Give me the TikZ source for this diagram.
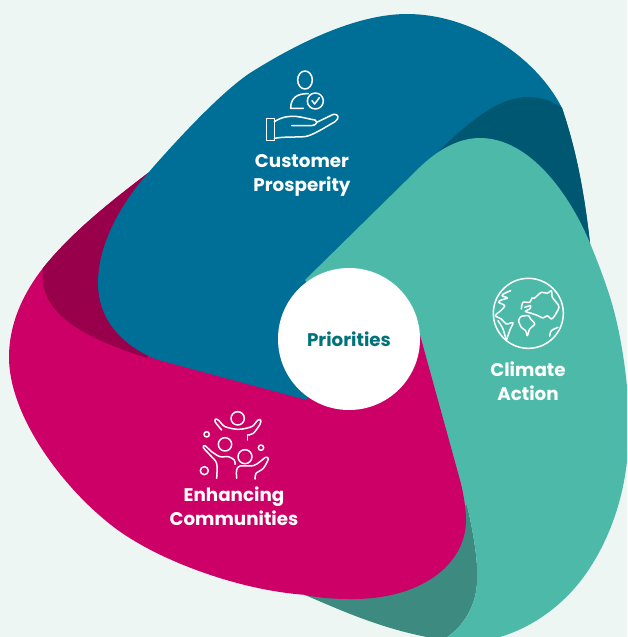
\documentclass[tikz,border=0pt]{standalone}
\usepackage{fontspec}
\setmainfont{Poppins}
\definecolor{paleback}{HTML}{EDF6F3}
\definecolor{blueleaf}{HTML}{006F97}
\definecolor{blueshade}{HTML}{005772}
\definecolor{tealleaf}{HTML}{4DB9A8}
\definecolor{tealshade}{HTML}{3C8A80}
\definecolor{pinkleaf}{HTML}{CC0066}
\definecolor{pinkshade}{HTML}{99004C}
\definecolor{centretext}{HTML}{00727A}
\tikzset{
  leaflabel/.style={white,align=center,font=\fontsize{18.3}{24}\selectfont\bfseries},
  iconline/.style={white,line width=1.5pt,line cap=round,line join=round},
}
\begin{document}
\begin{tikzpicture}[x=1pt,y=-1pt]
        \useasboundingbox (0,0) rectangle (627,637);
        \fill[paleback] (0,0) rectangle (627,637);
        \clip (0,0) rectangle (627,637);
        \fill[pinkleaf] (148,173) .. controls (110,202) and (72,232) .. (43,268)
          .. controls (22,295) and (9,325) .. (9,357)
          .. controls (9,425) and (80,509) .. (133,540)
          .. controls (165,560) and (235,590) .. (307,595) -- (360,400) -- cycle;
        \fill[pinkshade] (148,173) .. controls (110,202) and (72,232) .. (43,268)
          .. controls (38,310) and (75,335) .. (147,358) -- (200,250) -- cycle;
        \fill[blueleaf] (148,173) .. controls (175,142) and (220,93) .. (250,73)
          .. controls (285,51) and (350,14) .. (407,14)
          .. controls (470,14) and (535,55) .. (562,108)
          .. controls (578,155) and (585,200) .. (590,243) -- (420,350) -- (306,400) -- (180,367)
          .. controls (130,355) and (98,325) .. (98,283) .. controls (98,245) and (120,205) .. (148,173) -- cycle;
        \fill[blueshade] (437,153) .. controls (470,120) and (500,97) .. (527,97)
          .. controls (545,97) and (555,103) .. (562,108) .. controls (578,155) and (585,200) .. (590,243) -- (480,250) -- cycle;
        \fill[tealshade] (467,505) .. controls (475,540) and (482,580) .. (473,603)
          .. controls (466,622) and (455,632) .. (443,640) -- (427,637) .. controls (380,628) and (340,610) .. (305,595) -- (400,520) -- cycle;
        \fill[tealleaf] (305,280) -- (420,167) .. controls (440,148) and (460,138) .. (480,138)
          .. controls (530,138) and (570,195) .. (590,243) .. controls (596,258) and (603,275) .. (610,297)
          .. controls (622,335) and (632,400) .. (628,450) .. controls (624,510) and (600,560) .. (573,590)
          .. controls (555,610) and (530,628) .. (500,637) -- (470,640) -- (443,640)
          .. controls (455,632) and (466,622) .. (473,603) .. controls (482,580) and (475,540) .. (467,505)
          -- (430,500) -- (349,339) -- cycle;
        \fill[pinkleaf] (420,335) -- (460,480) .. controls (464,495) and (466,510) .. (466,520)
          .. controls (466,565) and (420,600) .. (350,599) .. controls (335,599) and (320,598) .. (305,595)
          -- (200,500) -- (147,357) -- (306,400) -- (349,339) -- cycle;
        \node[circle,fill=white,minimum size=142pt,inner sep=0pt] (centre) at (349,339) {};
        \node[text=centretext,font=\fontsize{18.3}{24}\selectfont\bfseries] (priorities) at (349,339) {Priorities};
        \node[leaflabel] (customer) at (302,175) {Customer\\Prosperity};
        \node[leaflabel] (climate) at (528,381) {Climate\\Action};
        \node[leaflabel] (communities) at (234,506) {Enhancing\\Communities};

        \begin{scope}[shift={(240,60)},scale=1/3,iconline]
        \draw (195,60) ellipse (22 and 27);
        \draw (190,145) -- (152,145) .. controls (152,115) and (170,100) .. (205,101);
        \draw (226,123) circle (24);
        \draw (216,122) -- (224,132) -- (238,113);
        \draw (80,175) rectangle (103,242);
        \draw (103,185) .. controls (150,155) and (190,175) .. (225,180) .. controls (232,185) and (232,195) .. (215,197) -- (155,197);
        \draw (230,187) -- (280,163) .. controls (295,160) and (300,175) .. (285,185)
          .. controls (250,205) and (220,225) .. (195,230) .. controls (160,232) and (130,230) .. (103,235);
        \end{scope}

        \begin{scope}[shift={(488,274)},scale=1/3,iconline]
        \draw (121,118) circle (105);
        \draw plot[smooth,tension=.5] coordinates {(68,50) (50,58) (42,65) (58,72) (40,78) (32,85) (50,95) (38,110) (22,125) (40,135) (55,150) (75,146) (65,170) (55,200)};
        \draw plot[smooth,tension=.5] coordinates {(30,140) (45,165) (55,200)};
        \draw plot[smooth,tension=.5] coordinates {(100,105) (105,85) (125,85) (132,72) (140,72) (160,55) (178,58) (190,50) (193,70) (205,85) (213,100) (200,125) (190,135) (178,125) (165,132) (150,125) (130,118)};
        \draw plot[smooth,tension=.5] coordinates {(110,100) (128,95) (125,105) (112,112) (130,118)};
        \draw plot[smooth,tension=.5] coordinates {(122,125) (100,127) (92,140) (100,160) (113,170) (118,185) (125,165) (140,150) (128,135) (122,125)};
        \draw plot[smooth,tension=.5] coordinates {(185,187) (190,170) (210,160)};
        \end{scope}

        \begin{scope}[shift={(195,405)},scale=1/3,iconline]
        \draw (128,40) circle (20);
        \draw plot[smooth,tension=.5] coordinates {(80,75) (60,50) (63,42) (72,47) (90,65) (130,73) (170,65) (188,46) (197,45) (195,58) (175,85) (158,90)};
        \draw (158,90) -- (158,105);
        \draw (35,88) circle (8);
        \draw (198,128) circle (8);
        \draw (28,197) circle (12);
        \draw (90,118) circle (20);
        \draw plot[smooth,tension=.5] coordinates {(65,220) (65,175) (45,150) (25,128) (30,122) (50,140) (75,155) (100,155) (118,165) (120,178)};
        \draw (150,155) circle (21);
        \draw plot[smooth,tension=.5] coordinates {(125,220) (125,195) (135,183) (175,182) (195,170) (212,157) (220,162) (205,190) (183,205) (180,222)};
        \end{scope}
\end{tikzpicture}
\end{document}
